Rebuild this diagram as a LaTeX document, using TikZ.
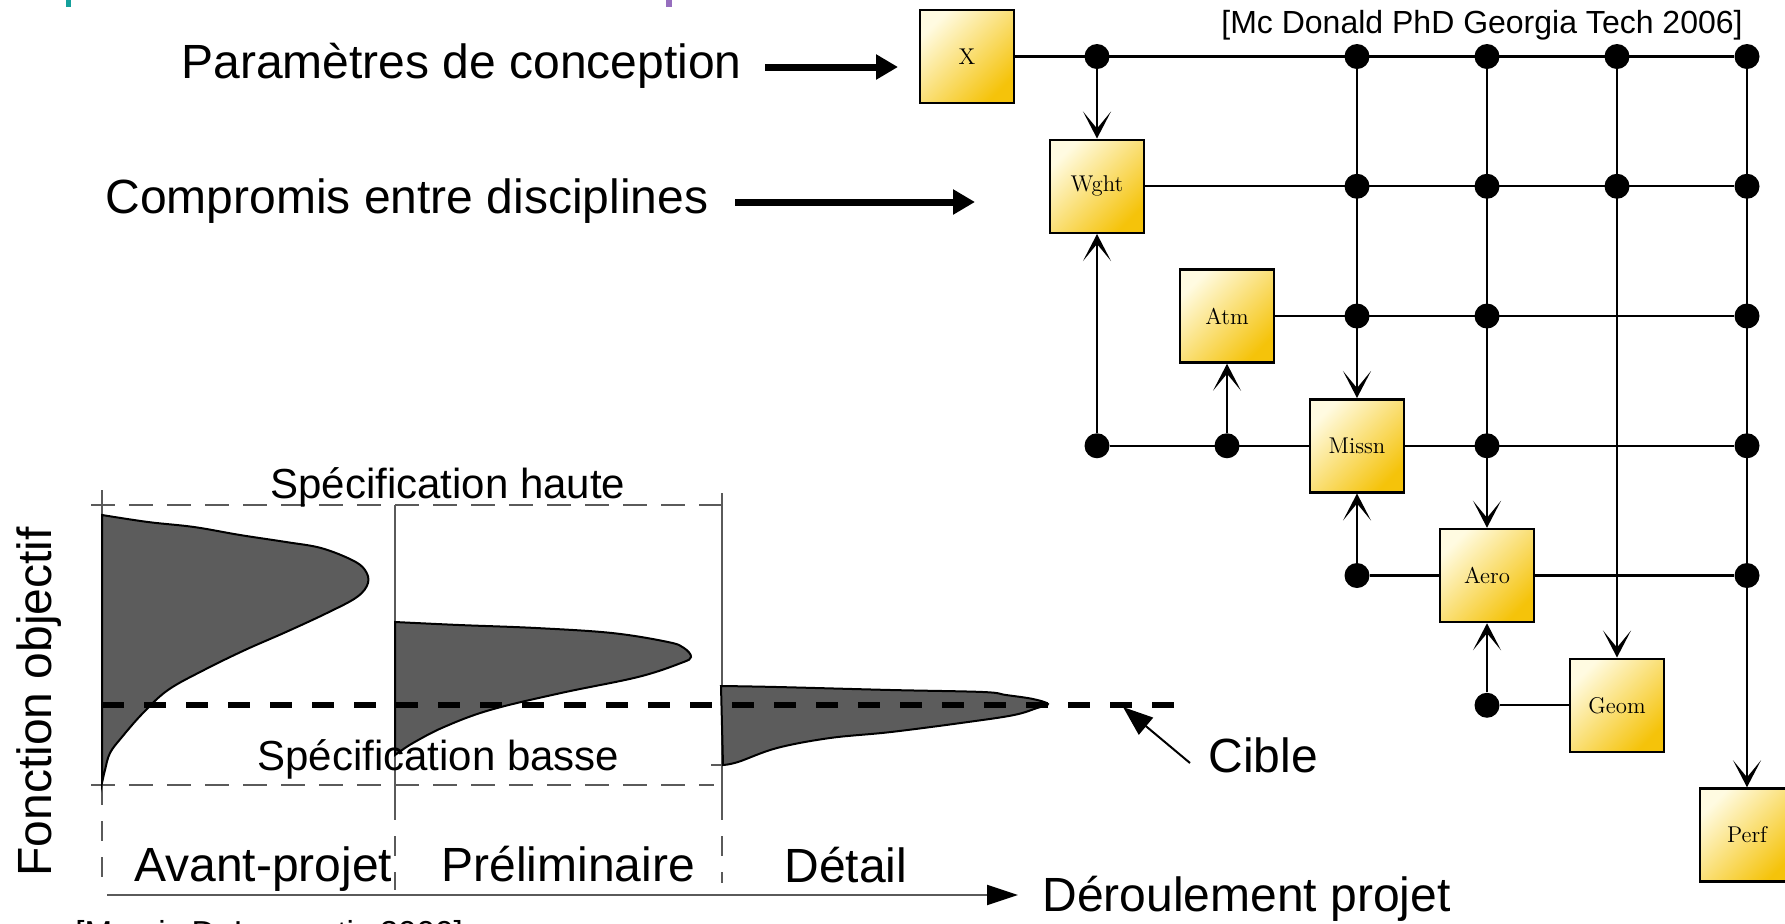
\documentclass[tikz,border=0pt]{standalone}
\usepackage{fontspec}
\newfontfamily\arial{Liberation Sans}
\usetikzlibrary{arrows.meta}
\definecolor{boxlight}{RGB}{255,251,225}
\definecolor{boxdark}{RGB}{245,195,10}
\definecolor{shapegray}{RGB}{92,92,92}
\definecolor{specgray}{RGB}{90,90,90}
\definecolor{tealmark}{RGB}{20,160,155}
\definecolor{purplemark}{RGB}{150,110,190}
\begin{document}
\begin{tikzpicture}[x=0.5pt,y=-0.5pt,
  disc/.style={draw=black, line width=1.25pt, minimum width=47pt, minimum height=46.5pt,
    inner sep=0pt, top color=boxlight, bottom color=boxdark, shading angle=45,
    font=\fontsize{11.4}{13}\selectfont},
  dot/.style={circle, fill=black, minimum size=12.5pt, inner sep=0pt},
  wire/.style={line width=1.2pt},
  feed/.style={wire, -{Stealth[length=13.5pt,width=14pt,inset=8.5pt]}},
  bigarrow/.style={line width=3.5pt, -{Triangle[length=11pt,width=12pt]}},
  lbl/.style={font=\arial\fontsize{24}{28}\selectfont, inner sep=0pt},
  spec/.style={font=\arial\fontsize{21}{25}\selectfont, inner sep=0pt},
  refl/.style={font=\arial\fontsize{16}{19}\selectfont, inner sep=0pt},
  specline/.style={specgray, line width=1.2pt, dash pattern=on 12pt off 7pt},
  vline/.style={specgray, line width=0.9pt},
  vdash/.style={specgray, line width=0.9pt, dash pattern=on 10pt off 8pt},
  blob/.style={fill=shapegray, draw=black, line width=1pt},
  target/.style={black, line width=3pt, dash pattern=on 11pt off 10pt},
  axisline/.style={specgray, line width=1pt},
]
\useasboundingbox (0,0) rectangle (1785,923);

% top marks
\fill[tealmark] (66,0) rectangle (71,7);
\fill[purplemark] (666,0) rectangle (672,7);

% ---------------- XDSM-like diagram ----------------
\node[disc] (X)  at (967,56.5)   {X};
\node[disc] (W)  at (1097,186.25) {Wght};
\node[disc] (A)  at (1227,316)   {Atm};
\node[disc] (M)  at (1357,445.75) {Missn};
\node[disc] (Ae) at (1487,575.5) {Aero};
\node[disc] (G)  at (1617,705.25) {Geom};
\node[disc] (P)  at (1747,835)   {Perf};

% dots
\node[dot] (d01) at (1097,56.5) {};
\node[dot] (d03) at (1357,56.5) {};
\node[dot] (d04) at (1487,56.5) {};
\node[dot] (d05) at (1617,56.5) {};
\node[dot] (d06) at (1747,56.5) {};
\node[dot] (d13) at (1357,186.25) {};
\node[dot] (d14) at (1487,186.25) {};
\node[dot] (d15) at (1617,186.25) {};
\node[dot] (d16) at (1747,186.25) {};
\node[dot] (d23) at (1357,316) {};
\node[dot] (d24) at (1487,316) {};
\node[dot] (d26) at (1747,316) {};
\node[dot] (d31) at (1097,445.75) {};
\node[dot] (d32) at (1227,445.75) {};
\node[dot] (d34) at (1487,445.75) {};
\node[dot] (d36) at (1747,445.75) {};
\node[dot] (d43) at (1357,575.5) {};
\node[dot] (d46) at (1747,575.5) {};
\node[dot] (d54) at (1487,705.25) {};

% horizontal wires
\draw[wire] (X) -- (d06);
\draw[wire] (W) -- (d16);
\draw[wire] (A) -- (d26);
\draw[wire] (d31) -- (M);
\draw[wire] (M) -- (d36);
\draw[wire] (d43) -- (Ae);
\draw[wire] (Ae) -- (d46);
\draw[wire] (d54) -- (G);

% vertical feeds
\draw[feed] (d01) -- (W);
\draw[feed] (d31) -- (W);
\draw[feed] (d32) -- (A);
\draw[feed] (d03) -- (M);
\draw[feed] (d43) -- (M);
\draw[feed] (d04) -- (Ae);
\draw[feed] (d54) -- (Ae);
\draw[feed] (d05) -- (G);
\draw[feed] (d06) -- (P);

\node[refl, anchor=base east] (mcd) at (1743,33) {[Mc Donald PhD Georgia Tech 2006]};

% left labels with arrows
\node[lbl, anchor=base west] (param) at (181,78) {Paramètres de conception};
\coordinate (pstart) at (765,67);
\coordinate (ptip) at (898,67);
\draw[bigarrow] (pstart) -- (ptip);
\node[lbl, anchor=base west] (compro) at (105,213) {Compromis entre disciplines};
\coordinate (cstart) at (735,202);
\coordinate (ctip) at (975,202);
\draw[bigarrow] (cstart) -- (ctip);

% ---------------- chart ----------------
\draw[specline] (91,505) -- (732,505);
\draw[specline] (91,785) -- (714,785);
\draw[vline] (102,490) -- (102,785);
\draw[vline] (395,505) -- (395,800);
\draw[vline] (722,493) -- (722,800);
\draw[vdash] (102,785) -- (102,888);
\draw[vdash] (395,800) -- (395,890);
\draw[vdash] (722,800) -- (722,883);
\draw[vline] (711,765) -- (724,765);

\filldraw[blob] plot[smooth, tension=0.6] coordinates {(102,515) (148,522) (194,527) (240,535) (286,542) (321,548) (352,560) (365,570) (368,583) (357,597) (327,613) (286,632) (245,650) (204,670) (168,690) (143,713) (122,737) (110,753) (105,770) (102,783)} -- cycle;
\filldraw[blob] plot[smooth, tension=0.6] coordinates {(395,622) (459,625) (536,628) (612,633) (668,642) (684,648) (691,657) (681,663) (638,677) (561,693) (490,710) (444,727) (413,743) (398,753)} -- (395,755) -- cycle;
\filldraw[blob] plot[smooth, tension=0.6] coordinates {(721,686) (777,687) (891,690) (983,692) (1006,695) (1033,699) (1048,704) (1037,708) (1014,715) (968,722) (891,732) (830,738) (777,748) (738,762) (723,765)} -- cycle;

\draw[target] (102,705) -- (1178,705);

% axis
\coordinate (axstart) at (107,895);
\coordinate (axtip) at (1018,895);
\draw[axisline, -{Triangle[length=15.5pt,width=10pt,fill=black,color=black]}] (axstart) -- (axtip);

% Cible arrow
\node[lbl, anchor=base west] (cible) at (1208,772) {Cible};
\coordinate (cfrom) at (1190,763);
\coordinate (ctgt) at (1123,707);
\draw[line width=1pt, -{Triangle[length=15pt,width=11pt]}] (cfrom) -- (ctgt);

% chart labels
\node[spec, anchor=base west] (shaute) at (270,498) {Spécification haute};
\node[spec, anchor=base west] (sbasse) at (257,770) {Spécification basse};
\node[lbl, anchor=base west] (avant) at (134,881) {Avant-projet};
\node[lbl, anchor=base west] (prelim) at (441,881) {Préliminaire};
\node[lbl, anchor=base west] (detail) at (784,882) {Détail};
\node[lbl, anchor=base west] (deroul) at (1042,911) {Déroulement projet};
\node[lbl, anchor=base west, rotate=90] (fobj) at (51,877) {Fonction objectif};
\node[refl, anchor=base west, font=\arial\fontsize{16.6}{19}\selectfont] (mavris) at (75,944) {[Mavris DeLaurentis 2000]};
\end{tikzpicture}
\end{document}
